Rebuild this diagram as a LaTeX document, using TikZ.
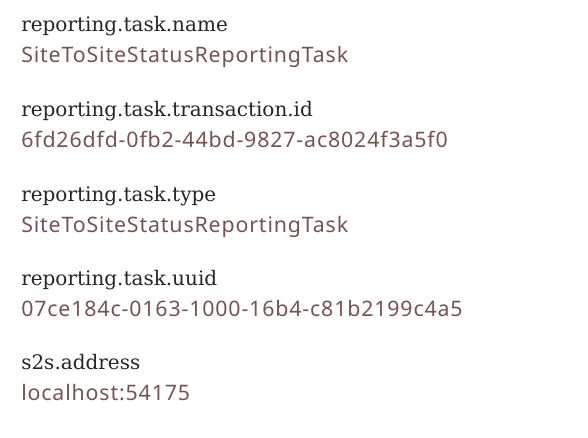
\documentclass[tikz,border=0pt]{standalone}
\usepackage{fontspec}
\setmainfont{DejaVu Serif}
\newfontfamily\valfont[LetterSpace=4]{Noto Sans}
\definecolor{labelc}{HTML}{262626}
\definecolor{valuec}{HTML}{775351}
\tikzset{
  attrlabel/.style={anchor=base west, inner sep=0pt, text=labelc, font=\fontsize{15}{18}\selectfont},
  attrvalue/.style={anchor=base west, inner sep=0pt, text=valuec, font=\valfont\fontsize{16}{19}\selectfont},
}
\begin{document}
\begin{tikzpicture}[x=0.75pt,y=-0.75pt]
\useasboundingbox[fill=white] (0,0) rectangle (588,438);
\node[attrlabel] (l1) at (21,32) {reporting.task.name};
\node[attrvalue] (v1) at (21,63) {SiteToSiteStatusReportingTask};
\node[attrlabel] (l2) at (21,117) {reporting.task.transaction.id};
\node[attrvalue] (v2) at (21,148) {6fd26dfd-0fb2-44bd-9827-ac8024f3a5f0};
\node[attrlabel] (l3) at (21,201) {reporting.task.type};
\node[attrvalue] (v3) at (21,232) {SiteToSiteStatusReportingTask};
\node[attrlabel] (l4) at (21,285) {reporting.task.uuid};
\node[attrvalue] (v4) at (21,316) {07ce184c-0163-1000-16b4-c81b2199c4a5};
\node[attrlabel] (l5) at (21,369) {s2s.address};
\node[attrvalue] (v5) at (21,400) {localhost:54175};
\end{tikzpicture}
\end{document}
